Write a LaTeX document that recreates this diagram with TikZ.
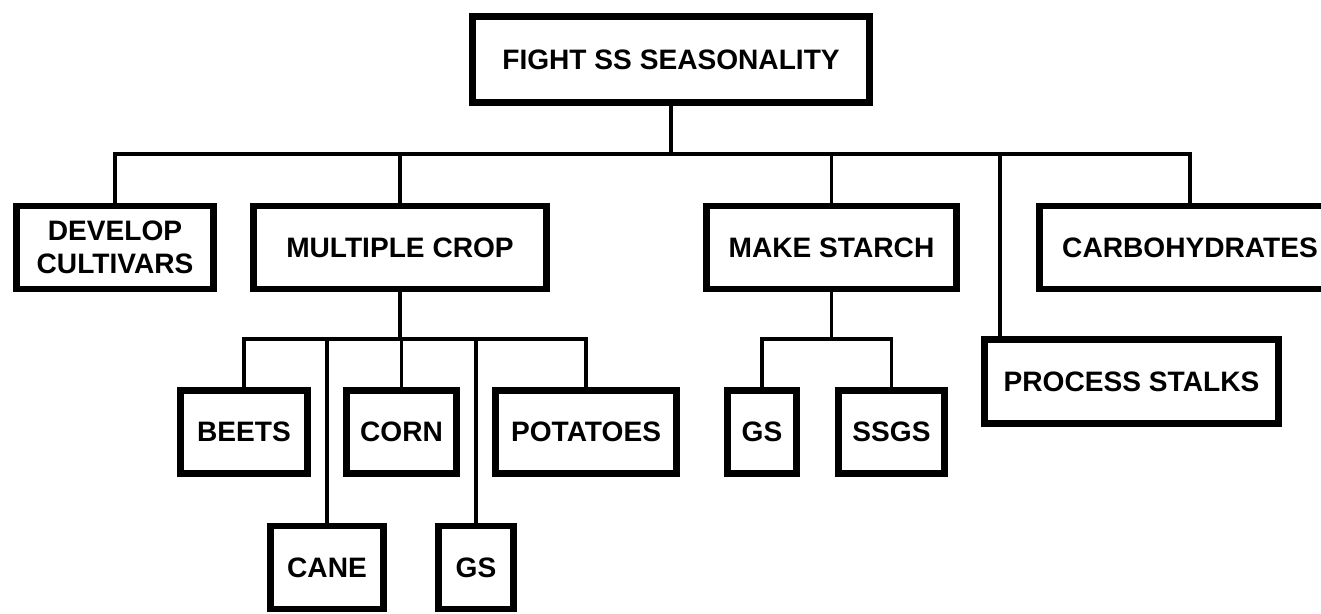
\documentclass[tikz,border=0pt]{standalone}
\usepackage{fontspec}
\setmainfont{Liberation Sans}
\usepackage{tikz}

\begin{document}
\begin{tikzpicture}[x=0.02cm,y=-0.02cm,
  box/.style={draw,line width=3.8pt,minimum height=1.66cm,inner sep=0pt,align=center,
    font=\bfseries\fontsize{16}{19}\selectfont},
  link/.style={line width=2pt}]
	\useasboundingbox[fill=white] (0,0) rectangle (1321,614);
	\clip (0,0) rectangle (1321,614);

	\node[box,minimum width=7.94cm,minimum height=1.72cm] (fight) at (671,59.5) {FIGHT SS SEASONALITY};

	\node[box,minimum width=3.94cm] (dev) at (115,247.5) {DEVELOP\\CULTIVARS};
	\node[box,minimum width=5.86cm] (multi) at (400,247.5) {MULTIPLE CROP};
	\node[box,minimum width=5cm] (starch) at (831.5,247.5) {MAKE STARCH};
	\node[box,minimum width=6.02cm] (carbo) at (1190,247.5) {CARBOHYDRATES};
	\node[box,minimum width=5.88cm,minimum height=1.68cm] (process) at (1131.5,381.5) {PROCESS STALKS};

	\node[box,minimum width=2.54cm] (beets) at (244,432) {BEETS};
	\node[box,minimum width=2.2cm] (corn) at (401.5,432) {CORN};
	\node[box,minimum width=3.62cm] (potatoes) at (586,432) {POTATOES};
	\node[box,minimum width=2.26cm] (cane) at (327,567.5) {CANE};
	\node[box,minimum width=1.5cm] (gsa) at (476,567.5) {GS};

	\node[box,minimum width=1.38cm] (gsb) at (762,432) {GS};
	\node[box,minimum width=2.12cm] (ssgs) at (891.5,432) {SSGS};

	\coordinate (bus) at (671,154);
	\coordinate (pdrop) at (1000,154);
	\coordinate (cropbus) at (400,339);
	\coordinate (starchbus) at (831.5,339);

	% top level
	\draw[link] (fight.south) -- (bus);
	\draw[link] (dev.north) |- (bus) -| (carbo.north);
	\draw[link] (multi.north) -- (multi.north |- bus);
	\draw[link] (starch.north) -- (starch.north |- bus);
	\draw[link] (pdrop) -- (pdrop |- process.north);

	% crops
	\draw[link] (multi.south) -- (cropbus);
	\draw[link] (beets.north) |- (cropbus) -| (potatoes.north);
	\draw[link] (corn.north) -- (corn.north |- cropbus);
	\draw[link] (cane.north) -- (cane.north |- cropbus);
	\draw[link] (gsa.north) -- (gsa.north |- cropbus);

	% starch
	\draw[link] (starch.south) -- (starchbus);
	\draw[link] (gsb.north) |- (starchbus) -| (ssgs.north);
\end{tikzpicture}
\end{document}
